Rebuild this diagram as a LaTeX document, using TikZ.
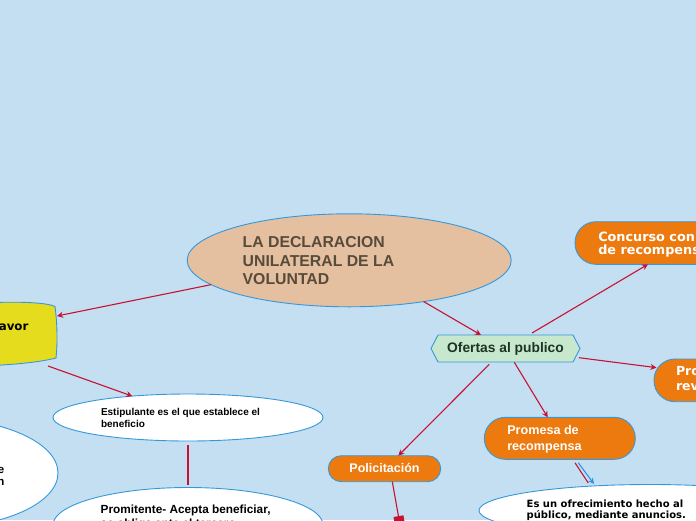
\documentclass[tikz,border=0pt]{standalone}
\usepackage{fontspec}
\setmainfont{Liberation Sans}
\newfontfamily\dvs{DejaVu Sans}
\usetikzlibrary{shapes.geometric,shapes.symbols,arrows.meta,calc}
\definecolor{bg}{RGB}{195,223,241}
\definecolor{bord}{RGB}{52,152,219}
\definecolor{redl}{RGB}{200,18,50}
\definecolor{orng}{RGB}{237,122,15}
\definecolor{titlefill}{RGB}{228,192,160}
\definecolor{titletext}{RGB}{88,75,58}
\definecolor{hexfill}{RGB}{200,232,206}
\definecolor{hextext}{RGB}{28,52,38}
\definecolor{yell}{RGB}{230,220,30}
\definecolor{bluel}{RGB}{40,150,230}
\begin{document}
\begin{tikzpicture}[x=1pt,y=-1pt,
  ell/.style={ellipse, draw=bord, line width=0.9pt, inner sep=0pt, outer sep=0pt},
  rbox/.style={rectangle, draw=bord, line width=0.9pt, fill=orng, inner sep=0pt, outer sep=0pt},
  txt/.style={anchor=base west, inner sep=0pt, outer sep=0pt},
  conn/.style={draw=redl, line width=1.1pt},
  arr/.style={conn, -{Stealth[length=6pt,width=6pt]}},
  wtxt/.style={txt, text=white}]
\useasboundingbox (0,0) rectangle (696,520);
\clip (0,0) rectangle (696,520);
\fill[bg] (0,0) rectangle (696,520);

% main ellipse
\node[ell, fill=titlefill, minimum width=324pt, minimum height=93pt] (main) at (349.2,260.3) {};
\begin{scope}[every node/.style={txt, text=titletext, font=\bfseries\fontsize{15.8}{19}\selectfont}]
\node (mainA) at (242.7,247.3) {LA DECLARACION};
\node (mainB) at (242.7,266.1) {UNILATERAL DE LA};
\node (mainC) at (242.7,284.9) {VOLUNTAD};
\end{scope}

% yellow node (cut off at left)
\path[fill=yell, draw=bord, line width=0.9pt]
  (-6,302.5) .. controls (25,301.5) and (48,303) .. (55,306.5)
  .. controls (57.5,325) and (57.5,345) .. (56,358)
  .. controls (40,362) and (20,364) .. (-6,365.5) -- cycle;
\coordinate (favorE) at (57,316);
\coordinate (favorB) at (48,366);
\node[anchor=base east, inner sep=0pt, font=\dvs\bfseries\fontsize{11.8}{14}\selectfont] (favorT) at (28.6,330.7) {a favor};

% left ellipse (cut off)
\node[ell, fill=white, minimum width=246pt, minimum height=110pt] (leftell) at (-65,473) {};
\node[anchor=base east, inner sep=0pt, font=\bfseries\fontsize{11.5}{13}\selectfont] (leftA) at (4.5,473.5) {de};
\node[anchor=base east, inner sep=0pt, font=\bfseries\fontsize{11.5}{13}\selectfont] (leftB) at (4.5,485) {en};

% Estipulante
\node[ell, fill=white, minimum width=270pt, minimum height=47pt] (estip) at (188,417.5) {};
\begin{scope}[every node/.style={txt, font=\bfseries\fontsize{10}{12}\selectfont}]
\node (estA) at (101,415) {Estipulante es el que establece el};
\node (estB) at (101,427) {beneficio};
\end{scope}

% Promitente
\node[ell, fill=white, minimum width=270pt, minimum height=75pt] (promit) at (188,525) {};
\begin{scope}[every node/.style={txt, font=\bfseries\fontsize{11.8}{14}\selectfont}]
\node (proA) at (100.7,513) {Promitente- Acepta beneficiar,};
\node (proB) at (100.7,527) {se obliga ante el tercero};
\end{scope}

% Ofertas al publico
\node[signal, signal to=west and east, signal pointer angle=125, draw=bord, line width=0.9pt,
  fill=hexfill, minimum width=149pt, minimum height=27pt, inner sep=0pt, outer sep=0pt] (ofertas) at (505.5,348.5) {};
\node[anchor=base, inner sep=0pt, text=hextext, font=\bfseries\fontsize{13.8}{16}\selectfont] (ofT) at (505.5,352.7) {Ofertas al publico};

% Concurso
\node[rbox, rounded corners=21pt, minimum width=180pt, minimum height=42.6pt] (concurso) at (665,243) {};
\begin{scope}[every node/.style={wtxt, font=\dvs\bfseries\fontsize{12.8}{14}\selectfont}]
\node (conA) at (598.3,241.2) {Concurso con promesa};
\node (conB) at (598.3,254.2) {de recompensa};
\end{scope}

% Promesa revocable
\node[rbox, rounded corners=21pt, minimum width=140pt, minimum height=42.7pt] (prorev) at (724,380.35) {};
\begin{scope}[every node/.style={wtxt, font=\dvs\bfseries\fontsize{12.5}{14}\selectfont}]
\node (prvA) at (676,375.7) {Promesa};
\node (prvB) at (676,390) {revocable};
\end{scope}

% Promesa de recompensa
\node[rbox, rounded corners=21pt, minimum width=151pt, minimum height=42pt] (promesa) at (559.8,438.3) {};
\begin{scope}[every node/.style={wtxt, font=\bfseries\fontsize{12.6}{15}\selectfont}]
\node (pmA) at (507.3,434.3) {Promesa de};
\node (pmB) at (507.3,450) {recompensa};
\end{scope}

% Policitacion
\node[rbox, rounded corners=13pt, minimum width=112.4pt, minimum height=26pt] (polic) at (384.5,468.7) {};
\node[anchor=base, inner sep=0pt, text=white, font=\bfseries\fontsize{12.5}{15}\selectfont] (polT) at (384.5,472.7) {Policitación};
\coordinate (polEnd) at (400.2,526);

% Es un ofrecimiento
\node[ell, fill=white, minimum width=342pt, minimum height=52pt] (ofrec) at (650,510.5) {};
\begin{scope}[every node/.style={txt, font=\dvs\bfseries\fontsize{10}{12}\selectfont}]
\node (ofrA) at (526.7,507.3) {Es un ofrecimiento hecho al};
\node (ofrB) at (526.7,518.3) {público, mediante anuncios.};
\end{scope}

% connectors
\draw[arr] (main.190.8) -- (favorE);
\draw[arr] (favorB) -- (estip.159.7);
\draw[conn, shorten <=4pt, shorten >=3pt] (estip.south) -- (promit.north);
\draw[arr] (main.-29.6) -- ($(ofertas.north)+(-24.5,0)$);
\draw[arr] ($(ofertas.north)+(26.5,-2)$) -- ($(concurso.south)+(-17,0)$);
\draw[arr] ($(ofertas.east)+(-1,9.2)$) -- ($(prorev.west)+(2.5,-12.7)$);
\draw[arr] ($(ofertas.south)+(8.8,0.3)$) -- ($(promesa.north)+(-12.1,0)$);
\draw[arr] ($(ofertas.south)+(-16.2,2.3)$) -- ($(polic.north)+(13.8,0)$);
\draw[conn, -{Square[length=10pt,width=10pt]}] ($(polic.south)+(7.8,0)$) -- (polEnd);
\draw[conn] ($(promesa.south)+(15.2,3.5)$) -- ($(ofrec.north)+(-61.7,-1.5)$);
\draw[draw=bluel, line width=1.1pt, -{Stealth[length=6pt,width=6pt]}] ($(promesa.south)+(18.5,3.5)$) -- ($(ofrec.north)+(-56,-0.5)$);
\end{tikzpicture}
\end{document}
